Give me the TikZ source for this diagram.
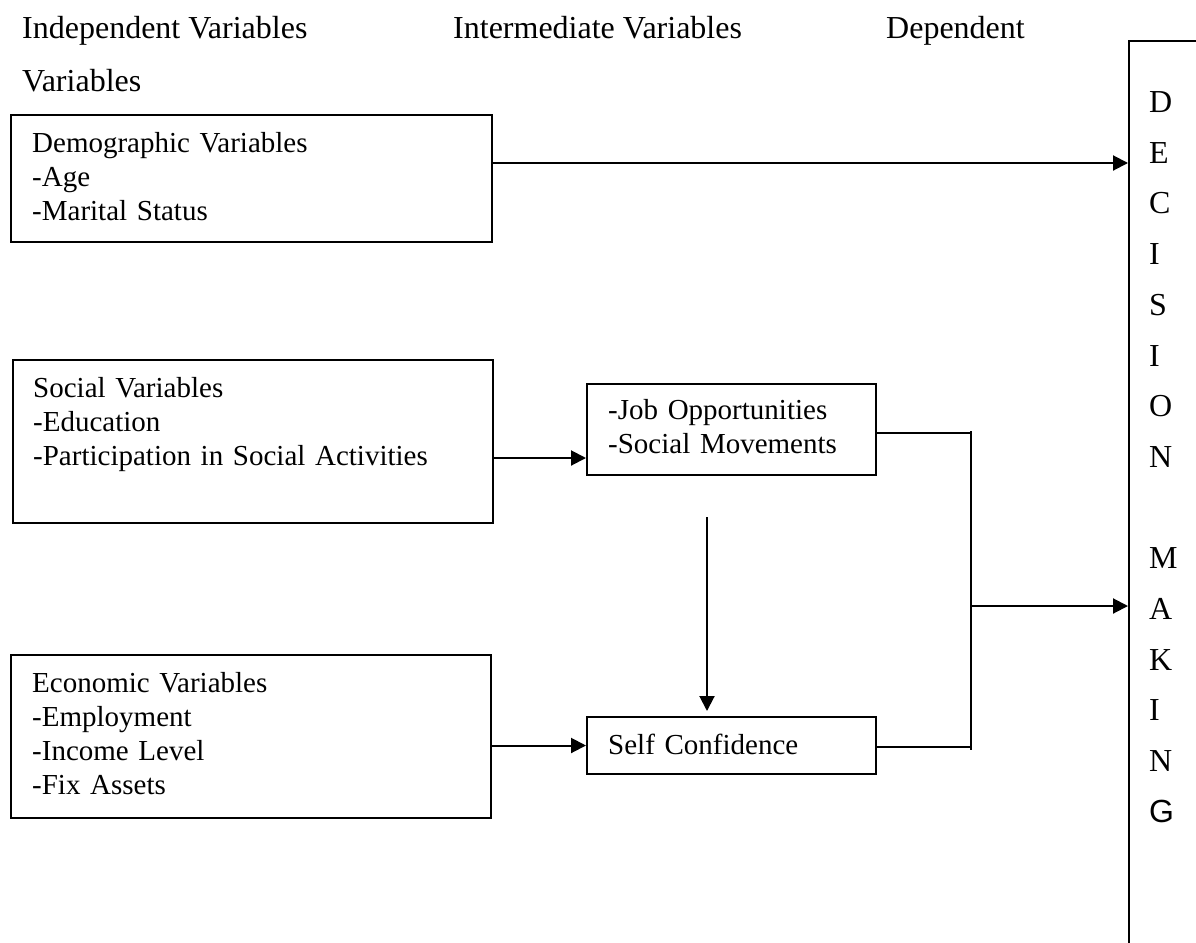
\documentclass[tikz,border=0pt]{standalone}
\usepackage{fontspec}
\setmainfont{Liberation Serif}
\newfontfamily\gsans{Liberation Sans}
\usetikzlibrary{arrows.meta,calc}
\newcommand\headfont{\fontsize{32}{36}\selectfont}
\newcommand\boxfont{\fontsize{29}{34}\selectfont}
\begin{document}
\begin{tikzpicture}[x=1pt,y=-1pt,
  box/.style={draw,line width=2pt,inner sep=0pt,anchor=north west},
  txt/.style={inner sep=0pt,anchor=base west,align=left,text width=460pt,font=\boxfont},
  head/.style={inner sep=0pt,anchor=base west,font=\headfont},
  letter/.style={inner sep=0pt,anchor=base west,font=\headfont},
  ln/.style={line width=2pt},
  arr/.style={line width=2pt,-{Triangle[length=15pt,width=15pt]}}]
\useasboundingbox (0,0) rectangle (1196,942);
\fill[white] (0,0) rectangle (1196,942);
\clip (0,0) rectangle (1196,942);

% headers
\node[head] (h1) at (22,38) {Independent Variables};
\node[head] (h2) at (453,38) {Intermediate Variables};
\node[head] (h3) at (886,38) {Dependent};
\node[head] (h4) at (22,92) {Variables};

% boxes
\node[box,minimum width=481pt,minimum height=127pt] (demo) at (10,114) {};
\node[box,minimum width=480pt,minimum height=163pt] (soc) at (12,359) {};
\node[box,minimum width=480pt,minimum height=163pt] (econ) at (10,654) {};
\node[box,minimum width=289pt,minimum height=91pt] (job) at (586,383) {};
\node[box,minimum width=289pt,minimum height=57pt] (self) at (586,716) {};
\node[box,minimum width=200pt,minimum height=1000pt] (dm) at (1128,40) {};

% box texts
\node[txt] (tdemo) at (32,152) {Demographic Variables\\-Age\\-Marital Status};
\node[txt] (tsoc) at (33,397) {Social Variables\\-Education\\-Participation in Social Activities};
\node[txt] (tecon) at (32,692) {Economic Variables\\-Employment\\-Income Level\\-Fix Assets};
\node[txt,text width=260pt] (tjob) at (608,419) {-Job Opportunities\\-Social Movements};
\node[txt,text width=260pt] (tself) at (608,754) {Self Confidence};

% vertical letters
\foreach \l/\k in {D/0,E/1,C/2,I/3,S/4,I/5,O/6,N/7,M/9,A/10,K/11,I/12,N/13}
  \node[letter] (L\k) at (1149,112.5+50.7*\k) {\l};
\node[letter,font=\gsans\headfont] (L14) at (1149,112.5+50.7*14) {G};

% connectors
\draw[arr] (demo.north east) ++(0,49) coordinate (d1) -- (d1 -| dm.west);
\draw[arr] (soc.north east) ++(0,99) coordinate (s0) -- (s0 -| job.west);
\draw[arr] (econ.east |- self.west) -- (self.west);
\draw[arr] ($(job.south west)+(121,41)$) -- ($(self.north west)+(121,-5)$);

\coordinate (b1) at (971,431);
\coordinate (b2) at (971,750);
\coordinate (b3) at (971,606);
\draw[ln] (b1) -- (b2);
\draw[ln] (job.north east) ++(0,50) coordinate (j1) -- (j1 -| b1);
\draw[ln] (self.north east) ++(0,31) coordinate (s1) -- (s1 -| b1);
\draw[arr] (b3) -- (b3 -| dm.west);
\end{tikzpicture}
\end{document}
